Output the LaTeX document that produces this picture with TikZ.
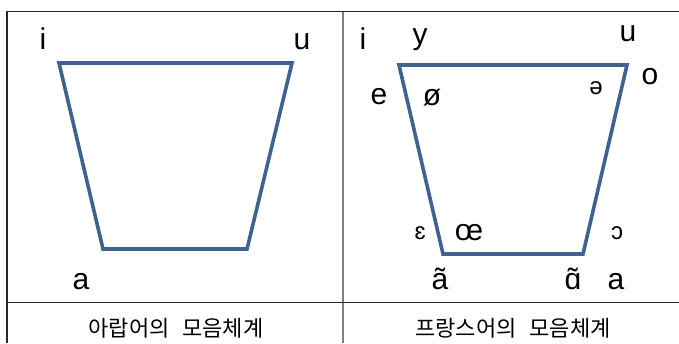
\documentclass[tikz,border=0pt]{standalone}
\usepackage{fontspec}
\setmainfont{Liberation Sans}
\newfontfamily\kofont{Noto Sans CJK KR}
\usepackage{xcolor}
\usepackage{tikz}
\usetikzlibrary{positioning}
\definecolor{vowelblue}{HTML}{3F6391}
\definecolor{ruledark}{HTML}{262626}
\definecolor{rulegrey}{HTML}{7F7F7F}

\begin{document}
\begin{tikzpicture}[x=1pt,y=-1pt,
  rule/.style={draw=ruledark,line width=1.4pt},
  midrule/.style={draw=rulegrey,line width=1.6pt},
  chart/.style={draw=vowelblue,line width=3.6pt,line join=miter},
  vow/.style={inner sep=0pt,anchor=base,font=\fontsize{30}{34}\selectfont},
  small/.style={inner sep=0pt,anchor=base,font=\fontsize{24}{27}\selectfont},
  caption/.style={inner sep=0pt,anchor=base,font=\kofont\fontsize{22}{26}\selectfont}
]
\useasboundingbox (0,0) rectangle (679,343);
% table rules
\coordinate (tl) at (7,11.5);
\coordinate (tr) at (679,11.5);
\coordinate (bl) at (7,343);
\coordinate (ml) at (7,302.7);
\coordinate (mr) at (679,302.7);
\coordinate (mt) at (342.7,11.5);
\coordinate (mb) at (342.7,343);
\draw[midrule] (mt) -- (mb);
\draw[rule] (bl) -- (tl) -- (tr);
\draw[rule] (ml) -- (mr);

% Arabic chart
\coordinate (ai) at (59,63);
\coordinate (au) at (292,63);
\coordinate (aa) at (247,249);
\coordinate (ab) at (103,249);
\draw[chart] (ai) -- (au) -- (aa) -- (ab) -- cycle;
\node[vow] (ar-i) at (43,49) {i};
\node[vow] (ar-u) at (302,49) {u};
\node[vow] (ar-a) at (81,289) {a};
\node[caption] (ar-cap) at (176,336) {아랍어의\hspace{13pt}모음체계};

% French chart
\coordinate (fi) at (399,65);
\coordinate (fu) at (627,65);
\coordinate (fa) at (583,254);
\coordinate (fb) at (443,254);
\draw[chart] (fi) -- (fu) -- (fa) -- (fb) -- cycle;
\node[vow] (fr-i) at (363,49) {i};
\node[vow] (fr-y) at (420,44) {y};
\node[vow] (fr-u) at (628,41) {u};
\node[vow] (fr-o) at (650,84) {o};
\node[vow] (fr-e) at (379,104) {e};
\node[vow] (fr-oe) at (432,105) {ø};
\node[small] (fr-schwa) at (596,94) {ə};
\node[small] (fr-eps) at (420,239) {ɛ};
\node[vow] (fr-lig) at (469,240) {œ};
\node[small] (fr-open) at (617,239) {ɔ};
\node[vow] (fr-anas) at (440,289) {ã};
\node[vow] (fr-alnas) at (573,289) {ɑ̃};
\node[vow] (fr-a) at (616,289) {a};
\node[caption] (fr-cap) at (513,336) {프랑스어의\hspace{13pt}모음체계};
\end{tikzpicture}
\end{document}
